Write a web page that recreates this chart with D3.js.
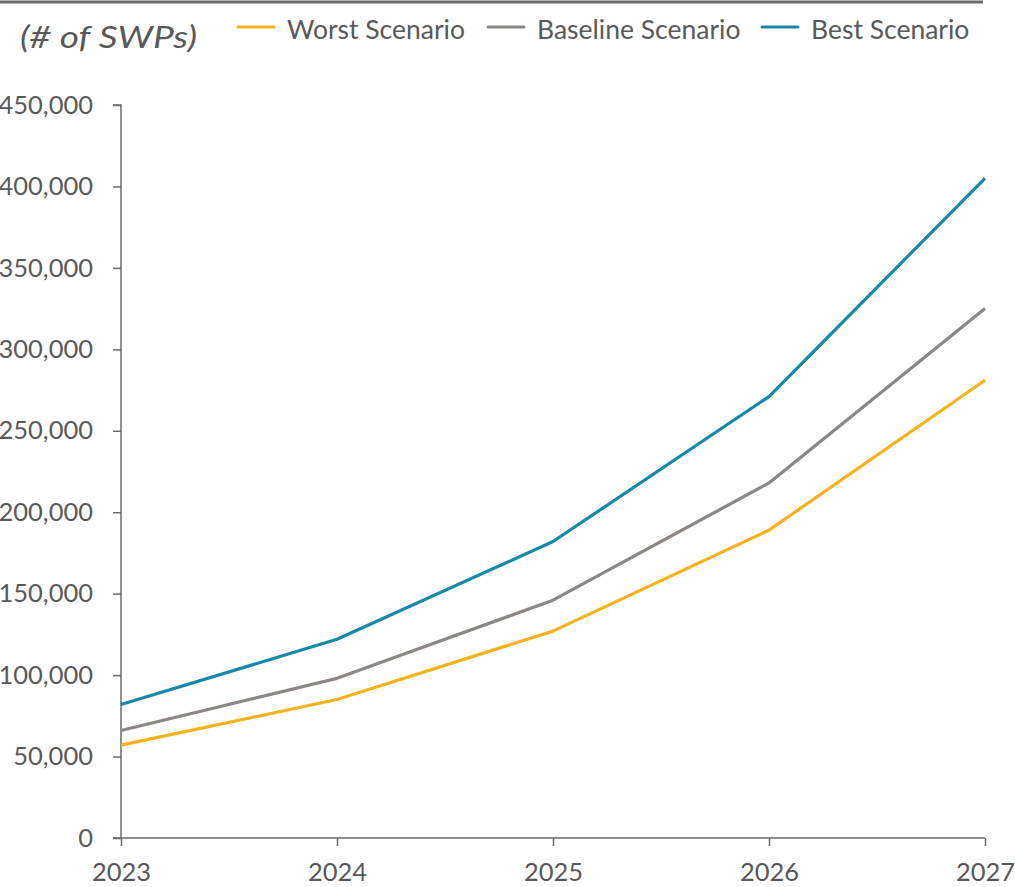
<!DOCTYPE html>
<html><head><meta charset="utf-8">
<script src="https://cdn.jsdelivr.net/npm/d3@7"></script>
<style>
html,body{margin:0;padding:0;background:#fff;}
svg{display:block;font-family:Lato,"Open Sans",sans-serif;}
</style></head>
<body>
<svg id="chart" width="1015" height="887"></svg>
<script>
const years = ["2023","2024","2025","2026","2027"];
const worst = [57000, 85000, 127000, 189000, 281000];
const baseline = [66000, 98000, 146000, 218000, 325000];
const best = [82000, 122000, 182000, 271000, 405000];
const yTicks = [0,50000,100000,150000,200000,250000,300000,350000,400000,450000];
const seriesNames = ["Worst Scenario","Baseline Scenario","Best Scenario"];
const colors = ["#F2B31D","#8C8685","#1689A7"];

const series = [worst, baseline, best].map((v,i)=>({name:seriesNames[i], color:colors[i], values:v}));

const svg = d3.select("#chart");
const x = d3.scalePoint().domain(years).range([121, 985]);
const y = d3.scaleLinear().domain([0, 450000]).range([838, 105]);
const axisColor = "#6b6b6b", textColor = "#595959";

// top rule
svg.append("line").attr("x1",0).attr("x2",983).attr("y1",2).attr("y2",2)
  .attr("stroke","#6b6b6b").attr("stroke-width",3);

// title
svg.append("text").attr("x",20).attr("y",48).attr("font-style","italic")
  .attr("font-size",31).attr("fill",textColor)
  .attr("textLength",177).attr("lengthAdjust","spacingAndGlyphs").text("(# of SWPs)");

// legend
const legX = [238, 488, 762];
series.forEach((s,i)=>{
  svg.append("line").attr("x1",legX[i]).attr("x2",legX[i]+36).attr("y1",27).attr("y2",27)
    .attr("stroke",s.color).attr("stroke-width",3).attr("stroke-linecap","round");
  svg.append("text").attr("x",legX[i]+49).attr("y",39).attr("font-size",26.5)
    .attr("fill",textColor).text(s.name);
});

// y axis
const yAxis = d3.axisLeft(y).tickValues(yTicks).tickSize(8).tickPadding(20)
  .tickFormat(d3.format(","));
const gy = svg.append("g").attr("transform","translate(121,0)").call(yAxis);
gy.select(".domain").attr("stroke",axisColor).attr("stroke-width",1.5).attr("d","M-8,105H0V838H-8");
gy.selectAll(".tick line").attr("stroke",axisColor).attr("stroke-width",1.5);
gy.selectAll(".tick text").attr("font-size",25.5).attr("fill",textColor).attr("font-family","Lato");

// x axis
const xAxis = d3.axisBottom(x).tickSize(8).tickPadding(17);
const gx = svg.append("g").attr("transform","translate(0,838)").call(xAxis);
gx.select(".domain").attr("stroke",axisColor).attr("stroke-width",1.5).attr("d","M121,0H985");
gx.selectAll(".tick line").attr("stroke",axisColor).attr("stroke-width",1.5);
gx.selectAll(".tick text").attr("font-size",25.5).attr("fill",textColor).attr("font-family","Lato");

// lines
const line = d3.line().x((d,i)=>x(years[i])).y(d=>y(d));
series.forEach(s=>{
  svg.append("path").datum(s.values).attr("d",line).attr("fill","none")
    .attr("stroke",s.color).attr("stroke-width",3.2).attr("stroke-linejoin","round");
});
</script>
</body></html>
